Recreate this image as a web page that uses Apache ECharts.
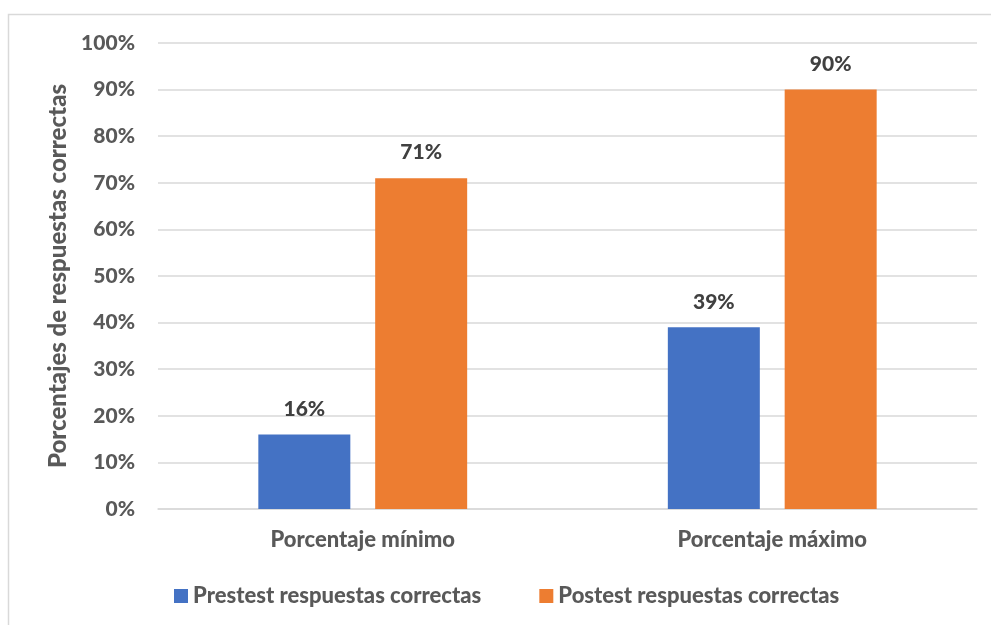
<!DOCTYPE html>
<html>
<head>
<meta charset="utf-8">
<script src="https://cdn.jsdelivr.net/npm/echarts@6/dist/echarts.min.js"></script>
<style>
html,body{margin:0;padding:0;background:#fff;}
#c{width:991px;height:625px;}
</style>
</head>
<body>
<div id="c"></div>
<script>
var categories = ["Porcentaje mínimo", "Porcentaje máximo"];
var prestest = [16, 39];
var postest = [71, 90];
var yTicks = [0, 10, 20, 30, 40, 50, 60, 70, 80, 90, 100];
var seriesNames = ["Prestest respuestas correctas", "Postest respuestas correctas"];

var FONT = "Lato, 'Open Sans', sans-serif";
var W = 900;
var chart = echarts.init(document.getElementById('c'));
chart.setOption({
  animation: false,
  graphic: [{
    type: 'rect',
    shape: {x: 8.5, y: 14.5, width: 1000, height: 700},
    style: {fill: 'none', stroke: '#d9d9d9', lineWidth: 1.5},
    silent: true
  }],
  grid: {left: 158, right: 14, top: 43, bottom: 116},
  legend: {
    top: 580,
    left: 169,
    itemWidth: 14, itemHeight: 14, itemGap: 58, itemTextGap: 6,
    icon: 'rect',
    textStyle: {fontFamily: FONT, fontSize: 22, fontWeight: W, color: '#595959'},
    data: seriesNames
  },
  xAxis: {
    type: 'category',
    data: categories,
    axisTick: {show: false},
    axisLine: {lineStyle: {color: '#d9d9d9', width: 1.5}},
    axisLabel: {fontFamily: FONT, fontSize: 22, fontWeight: W, color: '#595959', margin: 20}
  },
  yAxis: {
    type: 'value',
    min: yTicks[0], max: yTicks[yTicks.length - 1], interval: 10,
    name: 'Porcentajes de respuestas correctas',
    nameLocation: 'middle',
    nameGap: 86,
    nameTextStyle: {fontFamily: FONT, fontSize: 24, fontWeight: W, color: '#595959'},
    axisLine: {show: false},
    axisTick: {show: false},
    splitLine: {lineStyle: {color: '#d9d9d9', width: 1.5}},
    axisLabel: {formatter: '{value}%', fontFamily: FONT, fontSize: 21, fontWeight: W, color: '#595959', margin: 23}
  },
  series: [
    {
      name: seriesNames[0], type: 'bar', data: prestest,
      barWidth: 92, barGap: '27%',
      itemStyle: {color: '#4472c4'},
      label: {show: true, position: 'top', distance: 15, formatter: '{c}%', fontFamily: FONT, fontSize: 21, fontWeight: W, color: '#404040'}
    },
    {
      name: seriesNames[1], type: 'bar', data: postest,
      barWidth: 92, barGap: '27%',
      itemStyle: {color: '#ed7d31'},
      label: {show: true, position: 'top', distance: 15, formatter: '{c}%', fontFamily: FONT, fontSize: 21, fontWeight: W, color: '#404040'}
    }
  ]
});
</script>
</body>
</html>
